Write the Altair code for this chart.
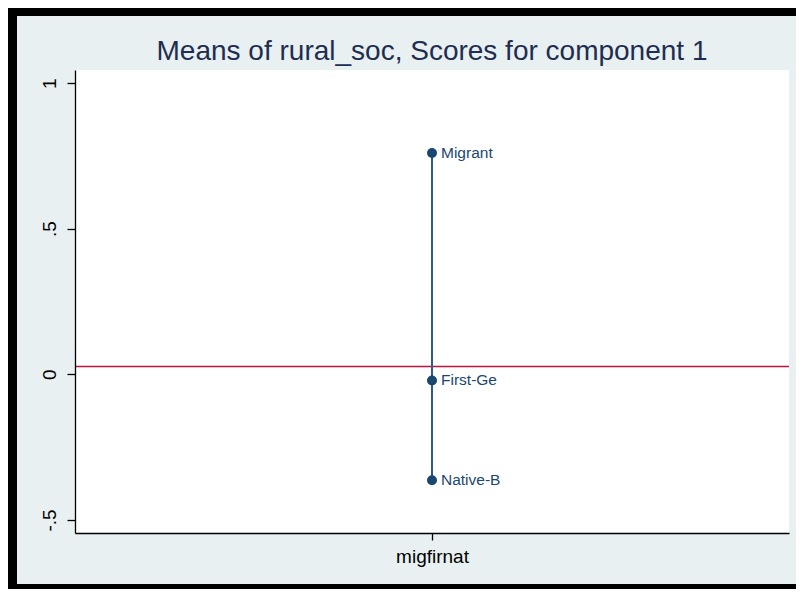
import altair as alt
import pandas as pd

# ---- data ----
groups = ["Migrant", "First-Ge", "Native-B"]
means = [0.760, -0.021, -0.364]
category = "migfirnat"
overall_mean = [0.027]
y_ticks = [-0.5, 0, 0.5, 1]
y_tick_labels = ["-.5", "0", ".5", "1"]
y_domain = [-0.545, 1.045]
title_text = "Means of rural_soc, Scores for component 1"

df = pd.DataFrame({"group": groups, "mean": means, "cat": [category] * len(groups)})
ref_df = pd.DataFrame({"mean": overall_mean})

W, H = 714, 463
NAVY = "#1A476F"
LINE = "#2E5A88"
RED = "#C0143C"
BG = "#E8F0F2"
FONT = "Liberation Sans"

label_expr = " : ".join(
    f"datum.value == {v} ? '{l}'" for v, l in zip(y_ticks, y_tick_labels)
) + " : ''"

x_enc = alt.X(
    "cat:N",
    scale=alt.Scale(type="point", padding=0.5),
    axis=alt.Axis(
        title=None, labelAngle=0, labelFontSize=19, labelFont=FONT,
        labelColor="black", labelPadding=7, tickSize=7, tickColor="black",
        tickWidth=1.3, domainColor="black", domainWidth=1.3, grid=False, zindex=1,
    ),
)
y_enc = alt.Y(
    "mean:Q",
    scale=alt.Scale(domain=y_domain, nice=False, zero=False),
    axis=alt.Axis(
        title=None, values=y_ticks, labelExpr=label_expr, labelAngle=270,
        labelAlign="center", labelBaseline="bottom", labelFontSize=19,
        labelFont=FONT, labelColor="black", labelPadding=8, tickSize=8,
        tickColor="black", tickWidth=1.3, domainColor="black", domainWidth=1.3,
        grid=False, zindex=1,
    ),
)

BOTTOM_PAD = 56

# decorative black frame (left, top, bottom) of the graph region
one = alt.Data(values=[{}])
frame_left = alt.Chart(one).mark_rect(color="black").encode(
    x=alt.value(-67), x2=alt.value(-58), y=alt.value(-62), y2=alt.value(H + BOTTOM_PAD)
)
frame_top = alt.Chart(one).mark_rect(color="black").encode(
    x=alt.value(-67), x2=alt.value(W + 15), y=alt.value(-62), y2=alt.value(-54)
)
frame_bottom = alt.Chart(one).mark_rect(color="black").encode(
    x=alt.value(-67), x2=alt.value(W + 15),
    y=alt.value(H + BOTTOM_PAD - 5), y2=alt.value(H + BOTTOM_PAD)
)

ref_line = alt.Chart(ref_df).mark_rule(color=RED, strokeWidth=1.5).encode(
    y=alt.Y("mean:Q", scale=alt.Scale(domain=y_domain, nice=False, zero=False))
)
conn = alt.Chart(df).mark_line(color=LINE, strokeWidth=2).encode(
    x=x_enc, y=y_enc, order="mean:Q"
)
pts = alt.Chart(df).mark_circle(size=100, color=NAVY, opacity=1).encode(
    x="cat:N", y="mean:Q"
)
labels = alt.Chart(df).mark_text(
    align="left", baseline="middle", dx=9, fontSize=15.5, font=FONT, color=NAVY
).encode(x="cat:N", y="mean:Q", text="group:N")

chart = alt.layer(
    frame_left, frame_top, frame_bottom, ref_line, conn, pts, labels
).properties(
    width=W,
    height=H,
    autosize=alt.AutoSizeParams(type="none"),
    padding={"left": 67, "top": 62, "right": 7, "bottom": BOTTOM_PAD},
    background=BG,
    title=alt.Title(
        title_text, fontSize=28, font=FONT, fontWeight="normal", color="#1F2D50",
        anchor="middle", baseline="alphabetic", offset=10, dy=90, zindex=1,
    ),
).configure_view(stroke=None, fill="white")

chart.save("out.html", embed_options={"renderer": "svg", "actions": False})
